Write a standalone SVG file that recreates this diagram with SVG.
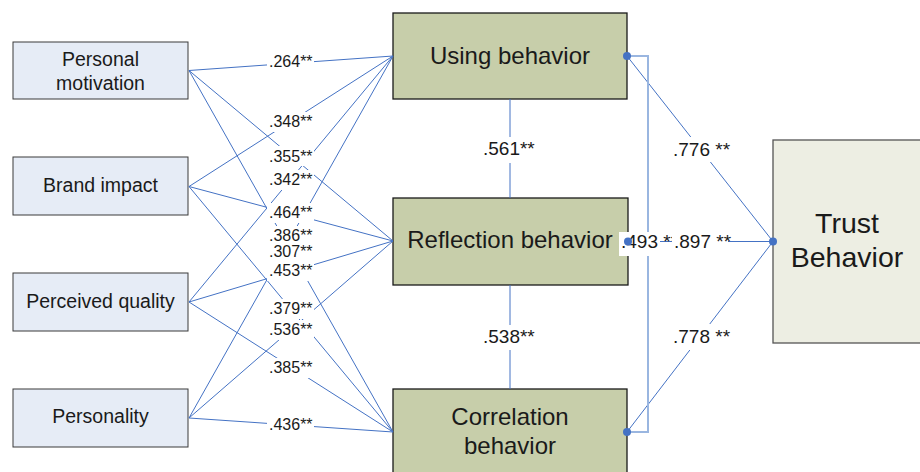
<svg xmlns="http://www.w3.org/2000/svg" width="920" height="472" viewBox="0 0 920 472">
<style>
.bg{fill:#ffffff}
.src rect{fill:#E6ECF6;stroke:#3a3a3a;stroke-width:1}
.mid rect{fill:#C7CEAA;stroke:#1a1a1a;stroke-width:1.3}
.tr rect{fill:#EDEEE3;stroke:#555555;stroke-width:1.3}
text{font-family:"Liberation Sans",Arial,sans-serif;fill:#1a1a1a}
.t19{font-size:19.5px}
.t24{font-size:24px}
.t28{font-size:28.5px}
.lab{font-size:16px}
.lab2{font-size:19px}
.ln{stroke:#4472C4;stroke-width:1;fill:none}
.br{stroke:#9AB6E0;stroke-width:2;fill:none}
.lb{fill:#ffffff}
.dot{fill:#4472C4}
</style>
<rect class="bg" x="0" y="0" width="920" height="472"/>
<g id="personal-motivation" class="src"><rect x="13" y="42" width="175" height="57"/><text class="t19" x="100.5" y="66" text-anchor="middle">Personal</text><text class="t19" x="100.5" y="90" text-anchor="middle">motivation</text></g>
<g id="brand-impact" class="src"><rect x="13" y="157" width="175" height="58"/><text class="t19" x="100.5" y="192" text-anchor="middle">Brand impact</text></g>
<g id="perceived-quality" class="src"><rect x="13" y="273" width="175" height="58"/><text class="t19" x="100.5" y="308" text-anchor="middle">Perceived quality</text></g>
<g id="personality" class="src"><rect x="13" y="389" width="175" height="58"/><text class="t19" x="100.5" y="423" text-anchor="middle">Personality</text></g>
<g id="using-behavior" class="mid"><rect x="393" y="13" width="234" height="86"/><text class="t24" x="510" y="64" text-anchor="middle">Using behavior</text></g>
<g id="reflection-behavior" class="mid"><rect x="393" y="198" width="235" height="87"/><text class="t24" x="510" y="248" text-anchor="middle">Reflection behavior</text></g>
<g id="correlation-behavior" class="mid"><rect x="393" y="389" width="234" height="100"/><text class="t24" x="510" y="425" text-anchor="middle">Correlation</text><text class="t24" x="510" y="454" text-anchor="middle">behavior</text></g>
<g id="trust-behavior" class="tr"><rect x="773" y="140" width="160" height="203"/><text class="t28" x="847" y="233" text-anchor="middle">Trust</text><text class="t28" x="847" y="267" text-anchor="middle">Behavior</text></g>
<g id="connectors">
  <g class="ln">
    <line x1="189" y1="70.5" x2="393" y2="56"/>
    <line x1="189" y1="70.5" x2="393" y2="241"/>
    <line x1="189" y1="70.5" x2="393" y2="432"/>
    <line x1="189" y1="186.5" x2="393" y2="56"/>
    <line x1="189" y1="186.5" x2="393" y2="241"/>
    <line x1="189" y1="186.5" x2="393" y2="432"/>
    <line x1="189" y1="302" x2="393" y2="56"/>
    <line x1="189" y1="302" x2="393" y2="241"/>
    <line x1="189" y1="302" x2="393" y2="432"/>
    <line x1="189" y1="418" x2="393" y2="56"/>
    <line x1="189" y1="418" x2="393" y2="241"/>
    <line x1="189" y1="418" x2="393" y2="432"/>
    <line x1="510" y1="99" x2="510" y2="198"/>
    <line x1="510" y1="285" x2="510" y2="389"/>
    <line x1="627" y1="56" x2="773" y2="241.5"/>
    <line x1="627" y1="432" x2="773" y2="241.5"/>
    <line x1="628" y1="241.5" x2="773" y2="241.5"/>
  </g>
  <path class="br" d="M627,56 H648 V432 H627"/>
  <g id="labels">
    <rect class="lb" x="267" y="52" width="47" height="20"/><text class="lab" x="269" y="67">.264**</text>
    <rect class="lb" x="267" y="112" width="47" height="20"/><text class="lab" x="269" y="127">.348**</text>
    <rect class="lb" x="267" y="146" width="47" height="20"/><text class="lab" x="269" y="162">.355**</text>
    <rect class="lb" x="267" y="170" width="47" height="20"/><text class="lab" x="269" y="185">.342**</text>
    <rect class="lb" x="267" y="203" width="47" height="20"/><text class="lab" x="269" y="218">.464**</text>
    <rect class="lb" x="267" y="226" width="47" height="20"/><text class="lab" x="269" y="241">.386**</text>
    <rect class="lb" x="267" y="242" width="47" height="20"/><text class="lab" x="269" y="257">.307**</text>
    <rect class="lb" x="267" y="261" width="47" height="20"/><text class="lab" x="269" y="276">.453**</text>
    <rect class="lb" x="267" y="299" width="47" height="20"/><text class="lab" x="269" y="314">.379**</text>
    <rect class="lb" x="267" y="320" width="47" height="20"/><text class="lab" x="269" y="335">.536**</text>
    <rect class="lb" x="267" y="358" width="47" height="20"/><text class="lab" x="269" y="373">.385**</text>
    <rect class="lb" x="267" y="415" width="47" height="20"/><text class="lab" x="269" y="430">.436**</text>
    <rect class="lb" x="481" y="137" width="56" height="26"/><text class="lab2" x="483" y="155">.561**</text>
    <rect class="lb" x="481" y="325" width="56" height="25"/><text class="lab2" x="483" y="343">.538**</text>
    <rect class="lb" x="671" y="137" width="58" height="25"/><text class="lab2" x="673" y="156">.776 **</text>
    <rect class="lb" x="671" y="324" width="58" height="26"/><text class="lab2" x="673" y="343">.778 **</text>
    <rect class="lb" x="619" y="232" width="41" height="24"/><text class="lab2" x="621" y="248">.493 **</text>
    <rect class="lb" x="672" y="230" width="56" height="23"/><text class="lab2" x="674" y="248">.897 **</text>
  </g>
  <g class="dot">
    <circle cx="627" cy="56" r="4"/>
    <circle cx="628" cy="241.5" r="4"/>
    <circle cx="627" cy="432" r="4"/>
    <circle cx="773" cy="241.5" r="4"/>
  </g>
</g>
</svg>
